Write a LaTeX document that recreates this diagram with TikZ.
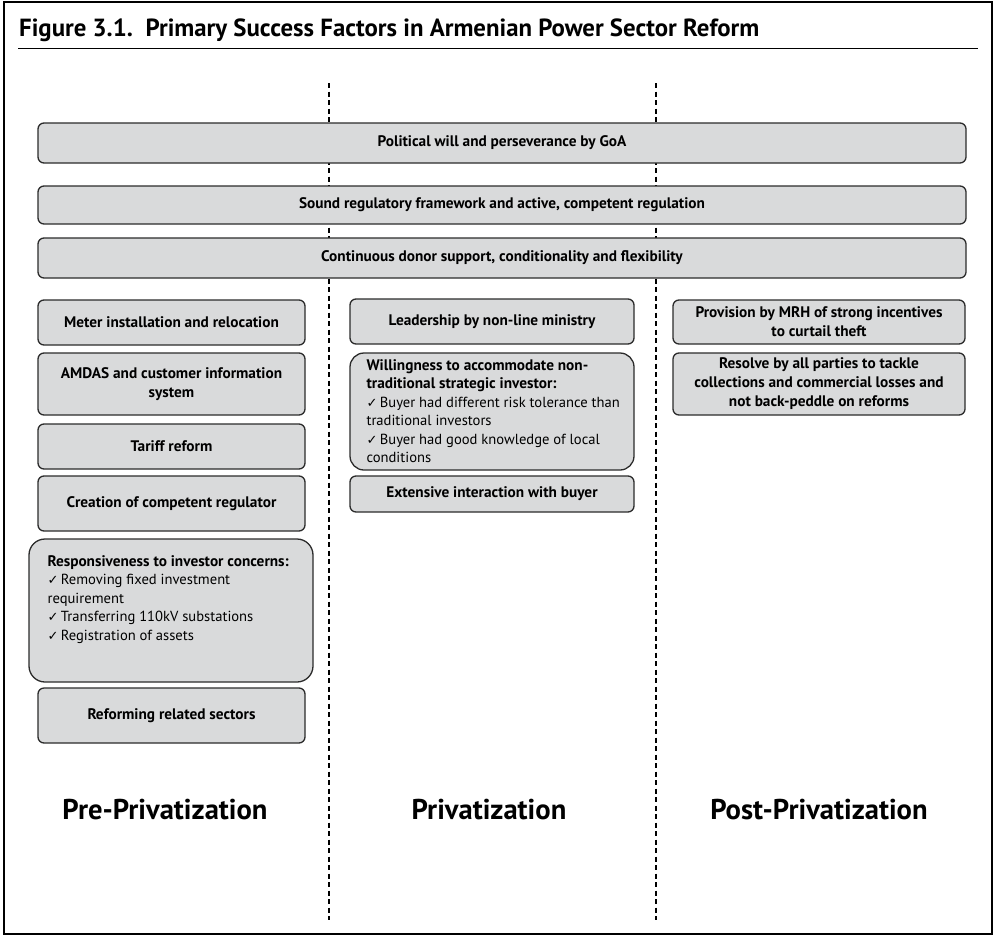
\documentclass[tikz,border=0pt]{standalone}
\usepackage{fontspec}
\setmainfont{PT Sans}
\newfontfamily\tickfont{DejaVu Sans}
\usetikzlibrary{positioning}

\definecolor{boxfill}{HTML}{D9DADB}
\definecolor{boxline}{HTML}{2B2B2B}
\newcommand{\chk}{{\tickfont\fontsize{13}{13}\selectfont ✓}\,}

\begin{document}
\begin{tikzpicture}[x=1pt,y=-1pt,every node/.style={inner sep=0pt},
    box/.style={draw=boxline, fill=boxfill, line width=1.3pt,
        rounded corners=6pt, align=center,
        font=\fontsize{15.3}{19}\selectfont\bfseries},
    listbox/.style={box, rounded corners=16pt},
    listtext/.style={align=left, font=\fontsize{14.6}{18.5}\selectfont},
    phase/.style={font=\fontsize{28.6}{32}\selectfont\bfseries, anchor=base},
    divider/.style={line width=1.2pt, dash pattern=on 5pt off 3.5pt}]
    \useasboundingbox (0,0) rectangle (995,937);
    \draw[line width=2pt] (4,2) rectangle (992,934);
    \node[anchor=base west, font=\fontsize{24.8}{28}\selectfont\bfseries] (title) at (19,36)
        {Figure 3.1.\ \ Primary Success Factors in Armenian Power Sector Reform};
    \draw[line width=0.8pt] (18,48) -- (978,48);
    % phase dividers, boxes drawn over them
    \draw[divider] (329,83) -- (329,920);
    \draw[divider] (656,83) -- (656,920);
    % across all phases
    \node[box, minimum width=928pt, minimum height=40pt] (will) at (502,143)
        {Political will and perseverance by GoA};
    \node[box, minimum width=928pt, minimum height=38pt] (regulation) at (502,205)
        {Sound regulatory framework and active, competent regulation};
    \node[box, minimum width=928pt, minimum height=40pt] (donor) at (502,258)
        {Continuous donor support, conditionality and flexibility};
    % pre-privatization
    \node[box, minimum width=267pt, minimum height=45pt] (meter) at (171.5,322.5)
        {Meter installation and relocation};
    \node[box, minimum width=267pt, minimum height=62pt] (amdas) at (171.5,384)
        {AMDAS and customer information\\system};
    \node[box, minimum width=267pt, minimum height=45pt] (tariff) at (171.5,446.5)
        {Tariff reform};
    \node[box, minimum width=267pt, minimum height=55pt] (regulator) at (171.5,503.5)
        {Creation of competent regulator};
    \node[listbox, minimum width=284pt, minimum height=143pt] (investor) at (171,610.5) {};
    \node[listtext, anchor=north west] (investortext) at ([shift={(19,17)}]investor.north west)
        {\textbf{\fontsize{15.3}{18.5}\selectfont Responsiveness to investor concerns:}\\
         \chk Removing fixed investment\\
         requirement\\
         \chk Transferring 110kV substations\\
         \chk Registration of assets};
    \node[box, minimum width=267pt, minimum height=55pt] (sectors) at (171.5,715.5)
        {Reforming related sectors};
    % privatization
    \node[box, minimum width=284pt, minimum height=45pt] (ministry) at (492,321.5)
        {Leadership by non-line ministry};
    \node[listbox, rounded corners=14pt, minimum width=284pt, minimum height=117pt] (buyer) at (492,411.5) {};
    \node[listtext, anchor=north west] (buyertext) at ([shift={(17,7)}]buyer.north west)
        {\textbf{\fontsize{15.3}{18.5}\selectfont Willingness to accommodate non-}\\
         \textbf{\fontsize{15.3}{18.5}\selectfont traditional strategic investor:}\\
         \chk Buyer had different risk tolerance than\\
         traditional investors\\
         \chk Buyer had good knowledge of local\\
         conditions};
    \node[box, minimum width=284pt, minimum height=36pt] (interaction) at (492,494)
        {Extensive interaction with buyer};
    % post-privatization
    \node[box, minimum width=292pt, minimum height=44pt] (incentives) at (819,322)
        {Provision by MRH of strong incentives\\to curtail theft};
    \node[box, minimum width=292pt, minimum height=62pt] (resolve) at (819,384)
        {Resolve by all parties to tackle\\collections and commercial losses and\\not back-peddle on reforms};
    \node[phase] (pre) at (165,819) {Pre-Privatization};
    \node[phase] (priv) at (489,819) {Privatization};
    \node[phase] (post) at (819,819) {Post-Privatization};
\end{tikzpicture}
\end{document}
